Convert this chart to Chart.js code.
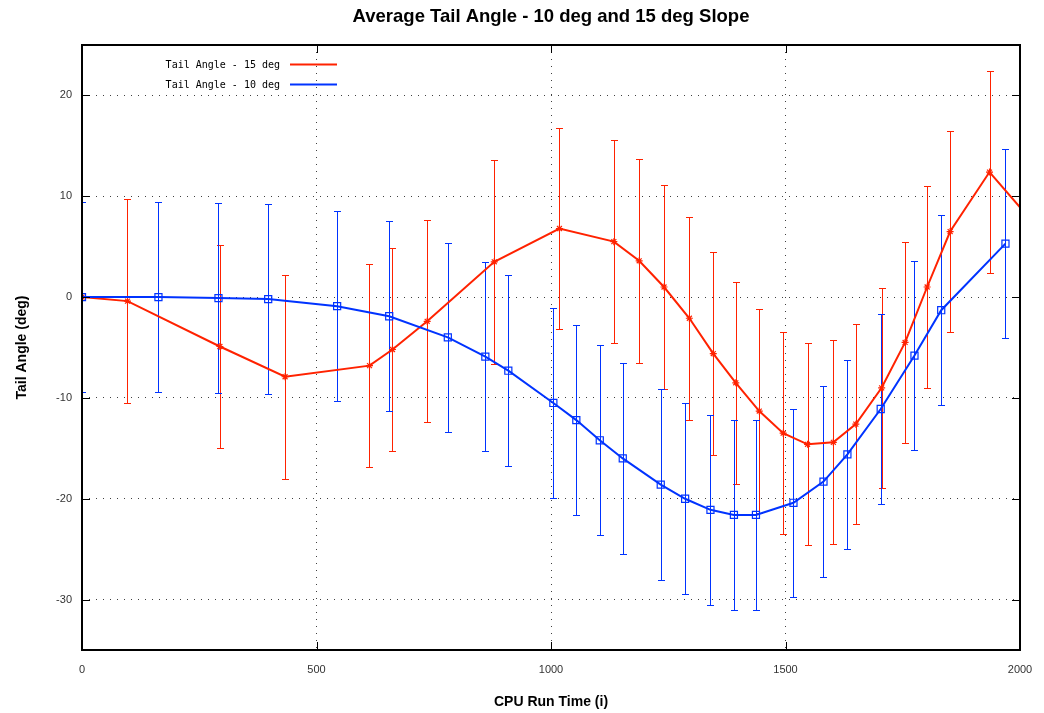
<!DOCTYPE html>
<html>
<head>
<meta charset="utf-8">
<script src="https://cdn.jsdelivr.net/npm/chart.js@4/dist/chart.umd.min.js"></script>
<style>
    html, body { margin: 0; padding: 0; background: #fff; }
    #wrap { width: 1044px; height: 713px; }
</style>
</head>
<body>
<div id="wrap"><canvas id="tailChart" width="1044" height="713"></canvas></div>
<script>
// 15 deg slope (red)
const red15X = [0, 97, 294, 433, 613, 662, 736, 879, 1018, 1134, 1188, 1241, 1295, 1346, 1394, 1444, 1495, 1547, 1602, 1650, 1705, 1755, 1802, 1851, 1935, 2000];
const red15Y = [0, -0.4, -4.9, -7.9, -6.8, -5.2, -2.4, 3.5, 6.8, 5.5, 3.6, 1.0, -2.1, -5.6, -8.5, -11.3, -13.5, -14.6, -14.4, -12.6, -9.0, -4.5, 1.0, 6.5, 12.4, 8.9];
const red15Err = [10, 10.1, 10.1, 10.1, 10.1, 10.1, 10, 10.1, 10, 10.05, 10.1, 10.1, 10.05, 10.1, 10, 10.1, 10, 10, 10.1, 9.9, 9.9, 10, 10, 10, 10, null];

// 10 deg slope (blue)
const blue10X = [0, 163, 291, 397, 544, 655, 780, 860, 909, 1005, 1054, 1104, 1153, 1234, 1286, 1340, 1390, 1437, 1517, 1581, 1632, 1703, 1775, 1832, 1969];
const blue10Y = [0, 0, -0.1, -0.2, -0.9, -1.9, -4.0, -5.9, -7.3, -10.5, -12.2, -14.2, -16.0, -18.6, -20.0, -21.1, -21.6, -21.6, -20.4, -18.3, -15.6, -11.1, -5.8, -1.3, 5.3];
const blue10Err = [9.4, 9.4, 9.45, 9.4, 9.45, 9.4, 9.35, 9.4, 9.45, 9.45, 9.4, 9.4, 9.45, 9.45, 9.45, 9.45, 9.45, 9.45, 9.35, 9.45, 9.4, 9.4, 9.4, 9.45, 9.4];

const xTicks = [0, 500, 1000, 1500, 2000];
const yTicks = [-30, -20, -10, 0, 10, 20];
const xMin = 0, xMax = 2000, yMin = -35, yMax = 25;

const RED = 'rgb(255, 34, 0)';
const BLUE = 'rgb(0, 51, 255)';
const SANS = '"Liberation Sans", Arial, sans-serif';

function toPoints(xs, ys) {
    return xs.map((x, i) => ({ x: x, y: ys[i] }));
}

// vertical error bars with small caps, drawn under the lines
const errorBars = {
    id: 'errorBars',
    beforeDatasetsDraw(chart) {
        const { ctx, chartArea, scales: { x, y } } = chart;
        ctx.save();
        ctx.beginPath();
        ctx.rect(chartArea.left, chartArea.top, chartArea.width, chartArea.height);
        ctx.clip();
        chart.data.datasets.forEach(ds => {
            ctx.strokeStyle = ds.borderColor;
            ctx.lineWidth = 1;
            ds.data.forEach((p, i) => {
                const e = ds.errors[i];
                if (e == null) return;
                const px = Math.round(x.getPixelForValue(p.x)) + 0.5;
                const top = Math.round(y.getPixelForValue(p.y + e)) + 0.5;
                const bot = Math.round(y.getPixelForValue(p.y - e)) + 0.5;
                ctx.beginPath();
                ctx.moveTo(px, top); ctx.lineTo(px, bot);
                ctx.moveTo(px - 3.5, top); ctx.lineTo(px + 3.5, top);
                ctx.moveTo(px - 3.5, bot); ctx.lineTo(px + 3.5, bot);
                ctx.stroke();
            });
        });
        ctx.restore();
    }
};

// gnuplot style frame with inward tick marks
const frame = {
    id: 'frame',
    afterDraw(chart) {
        const { ctx, chartArea: a, scales: { x, y } } = chart;
        ctx.save();
        ctx.strokeStyle = '#000';
        ctx.lineWidth = 1;
        ctx.beginPath();
        xTicks.forEach(v => {
            const px = Math.round(x.getPixelForValue(v)) + 0.5;
            ctx.moveTo(px, a.bottom); ctx.lineTo(px, a.bottom - 8);
            ctx.moveTo(px, a.top); ctx.lineTo(px, a.top + 8);
        });
        yTicks.forEach(v => {
            const py = Math.round(y.getPixelForValue(v)) + 0.5;
            ctx.moveTo(a.left, py); ctx.lineTo(a.left + 8, py);
            ctx.moveTo(a.right, py); ctx.lineTo(a.right - 8, py);
        });
        ctx.stroke();
        ctx.lineWidth = 2;
        ctx.strokeRect(a.left, a.top, a.right - a.left, a.bottom - a.top);
        ctx.restore();
    }
};

// legend: text first, then a line sample
const gnuLegend = {
    id: 'gnuLegend',
    afterDraw(chart) {
        const { ctx } = chart;
        ctx.save();
        ctx.font = '10px "DejaVu Sans Mono", monospace';
        ctx.textAlign = 'right';
        ctx.textBaseline = 'middle';
        chart.data.datasets.forEach((ds, i) => {
            const ly = 64.5 + i * 20;
            ctx.fillStyle = '#000';
            ctx.fillText(ds.label, 280, ly + 1);
            ctx.strokeStyle = ds.borderColor;
            ctx.lineWidth = 2;
            ctx.beginPath();
            ctx.moveTo(290, ly); ctx.lineTo(337, ly);
            ctx.stroke();
        });
        ctx.restore();
    }
};

const ctx = document.getElementById('tailChart').getContext('2d');
new Chart(ctx, {
    type: 'line',
    data: {
        datasets: [
            {
                label: 'Tail Angle - 15 deg',
                data: toPoints(red15X, red15Y),
                errors: red15Err,
                borderColor: RED,
                backgroundColor: RED,
                borderWidth: 2,
                pointStyle: 'star',
                pointRadius: c => (c.raw && c.raw.x >= xMax ? 0 : 3.5),
                pointBorderWidth: 1.2,
                pointBorderColor: RED,
                tension: 0,
                order: 2
            },
            {
                label: 'Tail Angle - 10 deg',
                data: toPoints(blue10X, blue10Y),
                errors: blue10Err,
                borderColor: BLUE,
                backgroundColor: 'rgba(0,0,0,0)',
                borderWidth: 2,
                pointStyle: 'rect',
                pointRadius: 5,
                pointBorderWidth: 1.2,
                pointBorderColor: BLUE,
                pointBackgroundColor: 'rgba(0,0,0,0)',
                tension: 0,
                order: 1
            }
        ]
    },
    options: {
        responsive: false,
        animation: false,
        layout: { padding: { left: 0, right: 24, top: 0, bottom: 0 } },
        plugins: {
            legend: { display: false },
            tooltip: { enabled: false },
            title: {
                display: true,
                fullSize: false,
                text: 'Average Tail Angle - 10 deg and 15 deg Slope',
                color: '#000',
                font: { family: SANS, size: 18.5, weight: 'bold' },
                padding: { top: 6, bottom: 16.8 }
            }
        },
        scales: {
            x: {
                type: 'linear',
                min: xMin,
                max: xMax,
                afterBuildTicks: s => { s.ticks = xTicks.map(v => ({ value: v })); },
                afterFit: s => { s.height = 63; s.paddingLeft = 0; s.paddingRight = 0; },
                ticks: {
                    color: '#333',
                    font: { family: SANS, size: 11 },
                    padding: 13,
                    maxRotation: 0,
                    callback: v => String(v)
                },
                grid: {
                    color: c => (c.tick && (c.tick.value === xMin || c.tick.value === xMax) ? 'rgba(0,0,0,0)' : 'rgba(0,0,0,0.75)'),
                    lineWidth: 1,
                    drawTicks: false
                },
                border: { display: false, dash: [1, 6] },
                title: {
                    display: true,
                    text: 'CPU Run Time (i)',
                    color: '#000',
                    font: { family: SANS, size: 14, weight: 'bold' },
                    padding: { top: 0, bottom: 2 }
                }
            },
            y: {
                type: 'linear',
                min: yMin,
                max: yMax,
                afterBuildTicks: s => { s.ticks = yTicks.map(v => ({ value: v })); },
                afterFit: s => { s.width = 82; s.paddingTop = 0; s.paddingBottom = 0; },
                ticks: {
                    color: '#333',
                    font: { family: SANS, size: 11 },
                    padding: 10,
                    callback: v => String(v)
                },
                grid: {
                    color: 'rgba(0,0,0,0.75)',
                    lineWidth: 1,
                    drawTicks: false
                },
                border: { display: false, dash: [1, 6] },
                title: {
                    display: true,
                    text: 'Tail Angle (deg)',
                    color: '#000',
                    font: { family: SANS, size: 14, weight: 'bold' },
                    padding: { top: 14, bottom: 0 }
                }
            }
        }
    },
    plugins: [errorBars, frame, gnuLegend]
});
</script>
</body>
</html>
